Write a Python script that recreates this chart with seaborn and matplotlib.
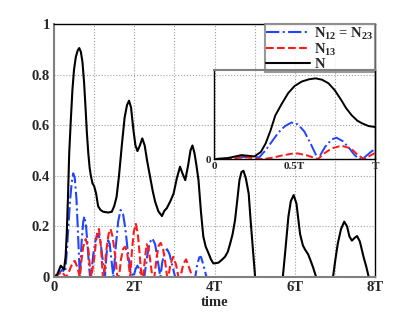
import matplotlib
matplotlib.use("Agg")
import matplotlib.pyplot as plt
import seaborn as sns

# time in units of T
t_n = [0.00, 0.08, 0.17, 0.25, 0.29, 0.32, 0.35, 0.38, 0.42, 0.46, 0.50, 0.545, 0.59, 0.63, 0.67,
       0.71, 0.75, 0.79, 0.82, 0.855, 0.89, 0.92, 0.96, 1.00, 1.05, 1.10, 1.16, 1.23, 1.35, 1.44,
       1.50, 1.56, 1.62, 1.69, 1.76, 1.82, 1.87, 1.92, 1.98, 2.03, 2.08, 2.14, 2.20, 2.26, 2.32,
       2.39, 2.46, 2.52, 2.60, 2.69, 2.75, 2.81, 2.90, 2.98, 3.06, 3.14, 3.20, 3.27, 3.34, 3.40,
       3.45, 3.50, 3.55, 3.60, 3.66, 3.72, 3.78, 3.85, 3.91, 3.97, 4.03, 4.10, 4.18, 4.26, 4.33,
       4.39, 4.45, 4.51, 4.57, 4.62, 4.67, 4.72, 4.78, 4.85, 4.90, 4.93, 4.97, 5.01, 5.70, 5.76,
       5.84, 5.90, 5.97, 6.04, 6.13, 6.20, 6.26, 6.33, 6.38, 6.45, 6.53, 6.95, 7.01, 7.07, 7.15,
       7.23, 7.30, 7.36, 7.42, 7.49, 7.55, 7.62, 7.71, 7.78, 7.84, 8.00]
n_total = [0.00, 0.01, 0.045, 0.03, 0.08, 0.176, 0.32, 0.49, 0.62, 0.74, 0.82, 0.87, 0.895, 0.905, 0.89,
           0.85, 0.77, 0.66, 0.57, 0.49, 0.43, 0.40, 0.37, 0.36, 0.33, 0.28, 0.265, 0.258, 0.255, 0.258,
           0.28, 0.317, 0.40, 0.52, 0.63, 0.68, 0.697, 0.67, 0.58, 0.52, 0.498, 0.52, 0.548, 0.52, 0.46,
           0.40, 0.34, 0.298, 0.26, 0.241, 0.262, 0.272, 0.30, 0.33, 0.39, 0.436, 0.41, 0.383, 0.44, 0.50,
           0.52, 0.49, 0.44, 0.383, 0.26, 0.16, 0.12, 0.094, 0.07, 0.054, 0.055, 0.057, 0.068, 0.08, 0.10,
           0.133, 0.17, 0.225, 0.31, 0.383, 0.415, 0.42, 0.39, 0.33, 0.22, 0.16, 0.08, 0.0, 0.0, 0.10,
           0.24, 0.30, 0.324, 0.29, 0.17, 0.125, 0.107, 0.09, 0.07, 0.04, 0.0, 0.0, 0.07, 0.133, 0.19,
           0.219, 0.20, 0.16, 0.144, 0.155, 0.162, 0.14, 0.08, 0.04, 0.0, 0.0]

t_12 = [0.00, 0.10, 0.20, 0.28, 0.32, 0.36, 0.40, 0.44, 0.48, 0.52, 0.56, 0.60, 0.645,
        0.69, 0.73, 0.76, 0.80, 0.84, 0.87, 0.90,
        0.92, 0.98, 1.04, 1.10, 1.16, 1.22, 1.27,
        1.31, 1.35, 1.39, 1.43, 1.48,
        1.54, 1.60, 1.66, 1.72, 1.78, 1.84, 1.90, 1.98,
        2.03, 2.08, 2.13, 2.18,
        2.25, 2.32, 2.38, 2.45, 2.52, 2.58, 2.65,
        2.70, 2.76, 2.82, 2.88, 2.94, 3.02,
        3.52, 3.57, 3.62, 3.66, 3.70, 3.75, 3.80, 8.00]
n_12 = [0.00, 0.01, 0.028, 0.02, 0.10, 0.20, 0.30, 0.37, 0.41, 0.39, 0.31, 0.17, 0.0,
        0.14, 0.22, 0.24, 0.20, 0.12, 0.05, 0.0,
        0.0, 0.09, 0.15, 0.17, 0.14, 0.06, 0.0,
        0.09, 0.145, 0.13, 0.07, 0.0,
        0.12, 0.22, 0.265, 0.25, 0.19, 0.10, 0.03, 0.0,
        0.03, 0.045, 0.03, 0.0,
        0.0, 0.08, 0.135, 0.153, 0.13, 0.07, 0.0,
        0.06, 0.10, 0.11, 0.09, 0.05, 0.0,
        0.0, 0.05, 0.078, 0.08, 0.06, 0.03, 0.0, 0.0]

t_13 = [0.00, 0.10, 0.20, 0.30, 0.36, 0.42, 0.48, 0.52, 0.58, 0.645,
        0.68, 0.73, 0.79, 0.85, 0.89, 0.93,
        0.96, 1.00, 1.04, 1.08, 1.12, 1.17, 1.22,
        1.25, 1.30, 1.36, 1.41, 1.46, 1.52, 1.58,
        1.62, 1.67, 1.72, 1.77, 1.82, 1.87, 1.90,
        1.94, 1.99, 2.04, 2.09, 2.14, 2.18,
        2.22, 2.27, 2.31, 2.36, 2.41, 2.45,
        2.50, 2.56, 2.61, 2.66, 2.72, 2.77, 2.82,
        2.85, 2.90, 2.97, 3.04, 3.10,
        3.15, 3.22, 3.29, 3.36, 3.45, 8.00]
n_13 = [0.00, 0.01, 0.02, 0.0, 0.015, 0.04, 0.06, 0.064, 0.04, 0.0,
        0.06, 0.12, 0.15, 0.12, 0.05, 0.0,
        0.03, 0.07, 0.13, 0.18, 0.19, 0.12, 0.0,
        0.0, 0.10, 0.17, 0.19, 0.16, 0.09, 0.0,
        0.0, 0.07, 0.11, 0.12, 0.10, 0.04, 0.0,
        0.10, 0.18, 0.21, 0.17, 0.08, 0.0,
        0.0, 0.08, 0.13, 0.11, 0.05, 0.0,
        0.0, 0.08, 0.125, 0.135, 0.11, 0.06, 0.0,
        0.0, 0.05, 0.08, 0.05, 0.0,
        0.0, 0.05, 0.07, 0.04, 0.0, 0.0]

main_xticks = [0, 1, 2, 3, 4, 5, 6, 7, 8]
main_xlabels = ["0", "", "2T", "", "4T", "", "6T", "", "8T"]
main_yticks = [0, 0.2, 0.4, 0.6, 0.8, 1.0]
main_ylabels = ["0", "0.2", "0.4", "0.6", "0.8", "1"]
inset_xticks = [0, 0.5, 1]
inset_xlabels = ["0", "0.5T", "T"]

sns.set_style("white")
plt.rcParams["font.family"] = ["Liberation Serif", "DejaVu Serif"]
plt.rcParams["font.weight"] = "bold"
plt.rcParams["mathtext.fontset"] = "custom"
plt.rcParams["mathtext.rm"] = "Liberation Serif:bold"
plt.rcParams["mathtext.it"] = "Liberation Serif:bold"
plt.rcParams["mathtext.bf"] = "Liberation Serif:bold"
plt.rcParams["xtick.direction"] = "in"
plt.rcParams["ytick.direction"] = "in"

blue = "#2244ff"
red = "#ff1a1a"

fig = plt.figure(figsize=(4.15, 3.12), dpi=100)
ax = fig.add_axes([0.130, 0.112, 0.774, 0.811])


def draw(a, lw):
    sns.lineplot(x=t_12, y=n_12, ax=a, color=blue, linestyle="-.", linewidth=lw,
                 estimator=None, sort=False, label=r"N$_{12}$ = N$_{23}$")
    sns.lineplot(x=t_13, y=n_13, ax=a, color=red, linestyle="--", linewidth=lw,
                 estimator=None, sort=False, label=r"N$_{13}$")
    sns.lineplot(x=t_n, y=n_total, ax=a, color="black", linestyle="-", linewidth=lw,
                 estimator=None, sort=False, label="N")


draw(ax, 1.5)
ax.set_xlim(0, 8)
ax.set_ylim(0, 1)
ax.set_xticks(main_xticks)
ax.set_xticklabels(main_xlabels, fontsize=10.5, fontweight="bold")
ax.set_yticks(main_yticks)
ax.set_yticklabels(main_ylabels, fontsize=10.5, fontweight="bold")
ax.tick_params(length=3, pad=3)
ax.grid(True, linestyle=":", color="#a0a0a0", linewidth=0.8)
ax.set_xlabel("time", fontsize=10.5, fontweight="bold", labelpad=1)
ax.set_ylabel("")
for s in ["left", "bottom"]:
    ax.spines[s].set_color("#808080")
    ax.spines[s].set_linewidth(1.5)
for s in ["top", "right"]:
    ax.spines[s].set_color("black")
    ax.spines[s].set_linewidth(1.0)

leg = ax.legend(loc="upper right", frameon=True, fancybox=False, fontsize=10.5,
                handlelength=3.0, handletextpad=0.3, borderaxespad=0, borderpad=0.1,
                labelspacing=0.0)
leg.get_frame().set_edgecolor("#808080")
leg.get_frame().set_linewidth(1.5)

# inset: first period
ax_in = fig.add_axes([0.516, 0.490, 0.388, 0.286])
ax_in.patch.set_alpha(0)
draw(ax_in, 1.4)
ax_in.get_legend().remove()
ax_in.set_xlim(0, 1)
ax_in.set_ylim(0, 1)
ax_in.set_xticks(inset_xticks)
ax_in.set_xticklabels(inset_xlabels, fontsize=8, fontweight="bold")
ax_in.set_yticks([0])
ax_in.set_yticklabels(["0"], fontsize=8, fontweight="bold")
ax_in.tick_params(length=2, pad=2)
ax_in.set_xlabel("")
ax_in.set_ylabel("")
ax_in.spines["top"].set_color("#808080")
ax_in.spines["top"].set_linewidth(1.5)
for s in ["left", "bottom", "right"]:
    ax_in.spines[s].set_color("black")
    ax_in.spines[s].set_linewidth(1.0)

plt.savefig("out.png", dpi=100)
